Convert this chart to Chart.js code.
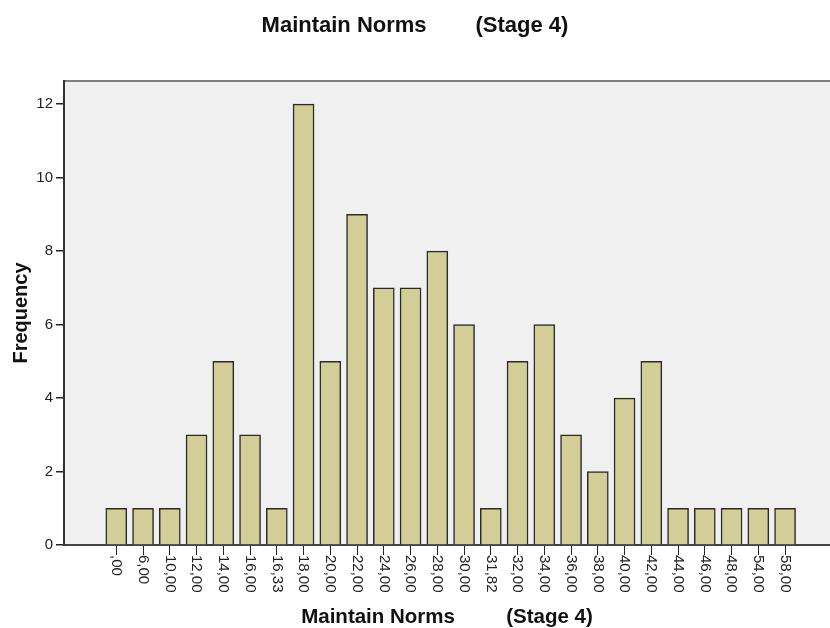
<!DOCTYPE html>
<html>
<head>
<meta charset="utf-8">
<script src="https://cdn.jsdelivr.net/npm/chart.js@4.4.1/dist/chart.umd.min.js"></script>
<style>
  html, body { margin: 0; padding: 0; background: #ffffff; }
  #wrap { width: 830px; height: 628px; }
</style>
</head>
<body>
<div id="wrap"><canvas id="c" width="830" height="628"></canvas></div>
<script>
const categories = [",00","6,00","10,00","12,00","14,00","16,00","16,33","18,00","20,00","22,00","24,00","26,00","28,00","30,00","31,82","32,00","34,00","36,00","38,00","40,00","42,00","44,00","46,00","48,00","54,00","58,00"];
const frequencies = [1,1,1,3,5,3,1,12,5,9,7,7,8,6,1,5,6,3,2,4,5,1,1,1,1,1];
const yTickValues = [0,2,4,6,8,10,12];
const chartTitle = "Maintain Norms\u00a0\u00a0\u00a0\u00a0\u00a0\u00a0\u00a0\u00a0(Stage 4)";
const xTitle = "Maintain Norms\u00a0\u00a0\u00a0\u00a0\u00a0\u00a0\u00a0\u00a0\u00a0(Stage 4)";
const yTitle = "Frequency";

const FONT = "'Liberation Sans', Arial, sans-serif";

const bgPlugin = {
  id: 'bg',
  beforeDraw(chart) {
    const {ctx, chartArea: a} = chart;
    ctx.save();
    ctx.fillStyle = '#f0f0f0';
    ctx.fillRect(a.left, a.top, a.right - a.left, a.bottom - a.top);
    ctx.strokeStyle = '#7f7f7f';
    ctx.lineWidth = 2;
    ctx.beginPath();
    ctx.moveTo(a.left, a.top);
    ctx.lineTo(a.right, a.top);
    ctx.stroke();
    ctx.restore();
  },
  afterDraw(chart) {
    const {ctx} = chart;
    const xs = chart.scales.x;
    ctx.save();
    ctx.fillStyle = '#222';
    ctx.font = "15px " + FONT;
    ctx.textAlign = 'left';
    ctx.textBaseline = 'middle';
    categories.forEach((lab, i) => {
      const px = xs.getPixelForValue(i);
      ctx.save();
      ctx.translate(px, xs.top + 10);
      ctx.rotate(Math.PI / 2);
      ctx.fillText(lab, 0, 0);
      ctx.restore();
    });
    ctx.restore();
  }
};

new Chart(document.getElementById('c'), {
  type: 'bar',
  data: {
    datasets: [{
      data: frequencies.map((v, i) => ({x: i, y: v})),
      backgroundColor: 'rgb(211,206,152)',
      borderColor: '#2a2a2a',
      borderWidth: 1.5,
      barThickness: 21
    }]
  },
  options: {
    responsive: false,
    animation: false,
    layout: { padding: 0 },
    plugins: {
      legend: { display: false },
      tooltip: { enabled: false },
      title: {
        display: true,
        text: chartTitle,
        color: '#111',
        font: { family: FONT, size: 22, weight: 'bold' },
        padding: { top: 13, bottom: 41.6 }
      }
    },
    scales: {
      x: {
        type: 'linear',
        offset: false,
        min: -1.955,
        max: 26.68,
        afterBuildTicks: s => { s.ticks = categories.map((_, i) => ({value: i})); },
        afterFit: s => { s.height = 83; },
        ticks: { display: false, autoSkip: false },
        grid: { display: true, offset: false, drawOnChartArea: false, drawTicks: true, tickLength: 10, color: '#222', lineWidth: 1 },
        border: { display: true, color: '#444', width: 2 },
        title: {
          display: true,
          text: xTitle,
          color: '#111',
          font: { family: FONT, size: 20.5, weight: 'bold', lineHeight: 1.0 },
          padding: { top: 0, bottom: 0 }
        }
      },
      y: {
        min: 0,
        max: 12.63,
        afterBuildTicks: s => { s.ticks = yTickValues.map(v => ({value: v})); },
        afterFit: s => { s.width = 64; },
        ticks: { color: '#222', font: { family: FONT, size: 15 }, padding: 3 },
        grid: { display: true, drawOnChartArea: false, drawTicks: true, tickLength: 8, color: '#222', lineWidth: 1.5 },
        border: { display: true, color: '#333', width: 2 },
        title: {
          display: true,
          text: yTitle,
          color: '#111',
          font: { family: FONT, size: 20, weight: 'bold' },
          padding: { top: 9, bottom: 0 }
        }
      }
    }
  },
  plugins: [bgPlugin]
});
</script>
</body>
</html>
